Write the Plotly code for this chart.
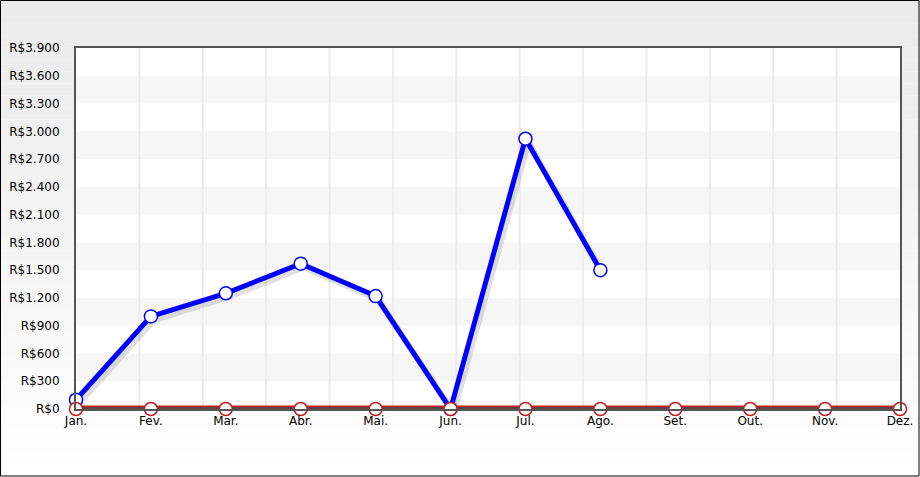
import plotly.graph_objects as go

months = ["Jan.", "Fev.", "Mar.", "Abr.", "Mai.", "Jun.", "Jul.", "Ago.", "Set.", "Out.", "Nov.", "Dez."]
series_blue = [100, 1000, 1250, 1570, 1220, 0, 2920, 1500, None, None, None, None]
series_red = [0, 0, 0, 0, 0, 0, 0, 0, 0, 0, 0, 0]
y_ticks = [0, 300, 600, 900, 1200, 1500, 1800, 2100, 2400, 2700, 3000, 3300, 3600, 3900]

def brl(v):
    return "R$" + f"{v:,}".replace(",", ".")

x = list(range(len(months)))
fig = go.Figure()

# shadow under blue line
fig.add_trace(go.Scatter(x=[i + 0.04 for i in x], y=[None if v is None else v - 40 for v in series_blue],
                         mode="lines", line=dict(color="rgba(0,0,0,0.12)", width=6),
                         hoverinfo="skip", showlegend=False, cliponaxis=False))
fig.add_trace(go.Scatter(x=x, y=series_blue, mode="lines+markers",
                         line=dict(color="#0000ff", width=5),
                         marker=dict(size=13, color="white", line=dict(color="#0000ff", width=1.5)),
                         showlegend=False, cliponaxis=False, name="Azul"))
# red line shadow, outer + dark inner
fig.add_trace(go.Scatter(x=x, y=[v - 35 for v in series_red], mode="lines",
                         line=dict(color="rgba(0,0,0,0.10)", width=6),
                         hoverinfo="skip", showlegend=False, cliponaxis=False))
fig.add_trace(go.Scatter(x=x, y=series_red, mode="lines",
                         line=dict(color="#c41e1e", width=7),
                         hoverinfo="skip", showlegend=False, cliponaxis=False))
fig.add_trace(go.Scatter(x=x, y=series_red, mode="lines+markers",
                         line=dict(color="#5e4444", width=4),
                         marker=dict(size=13, color="white", line=dict(color="#c41e1e", width=1.5)),
                         showlegend=False, cliponaxis=False, name="Vermelho"))

shapes = []
n = 40
for i in range(n):
    t = i / (n - 1)
    c = int(235 + (255 - 235) * t)
    y0 = 1 + 48 / 361 - (i) * (477 / 361) / n
    y1 = 1 + 48 / 361 - (i + 1) * (477 / 361) / n
    shapes.append(dict(type="rect", xref="paper", yref="paper",
                       x0=-76 / 824, x1=1 + 20 / 824, y0=y1, y1=y0,
                       fillcolor=f"rgb({c},{c},{c})", line=dict(width=0), layer="below"))
shapes.append(dict(type="rect", xref="paper", yref="paper", x0=0, x1=1, y0=0, y1=1,
                   fillcolor="white", line=dict(width=0), layer="below"))
for k in range(len(y_ticks) - 1):
    if k % 2 == 1:
        shapes.append(dict(type="rect", xref="paper", yref="y", x0=0, x1=1,
                           y0=y_ticks[k], y1=y_ticks[k + 1],
                           fillcolor="#f6f6f6", line=dict(width=0), layer="below"))
for k in range(1, 13):
    shapes.append(dict(type="line", xref="paper", yref="paper", x0=k / 13, x1=k / 13, y0=0, y1=1,
                       line=dict(color="#ebebeb", width=2), layer="below"))
shapes.append(dict(type="rect", xref="paper", yref="paper",
                   x0=-76 / 824 + 0.5 / 824, x1=1 + 20 / 824 - 1 / 824,
                   y0=-68 / 361 + 1 / 361, y1=1 + 48 / 361 - 0.5 / 361,
                   line=dict(color="black", width=1), fillcolor="rgba(0,0,0,0)", layer="above"))

fig.update_layout(
    width=920, height=477,
    margin=dict(l=76, r=20, t=48, b=68, autoexpand=False),
    paper_bgcolor="white", plot_bgcolor="white",
    font=dict(family="DejaVu Sans", size=12, color="black"),
    shapes=shapes,
    xaxis=dict(range=[0, 11], tickmode="array", tickvals=x, ticktext=months,
               showgrid=False, zeroline=False, showline=True, mirror=True, automargin=False,
               linecolor="#555555", linewidth=2, ticks="", ticklabelstandoff=0),
    yaxis=dict(range=[0, 3900], tickmode="array", tickvals=y_ticks,
               ticktext=[brl(v) for v in y_ticks], automargin=False,
               showgrid=False, zeroline=False, showline=True, mirror=True,
               linecolor="#555555", linewidth=2, ticks="", ticklabelstandoff=12),
)

fig.write_html("out.html", config={"displayModeBar": False},
               post_script="document.body.style.margin='0';document.body.style.overflow='hidden';")
